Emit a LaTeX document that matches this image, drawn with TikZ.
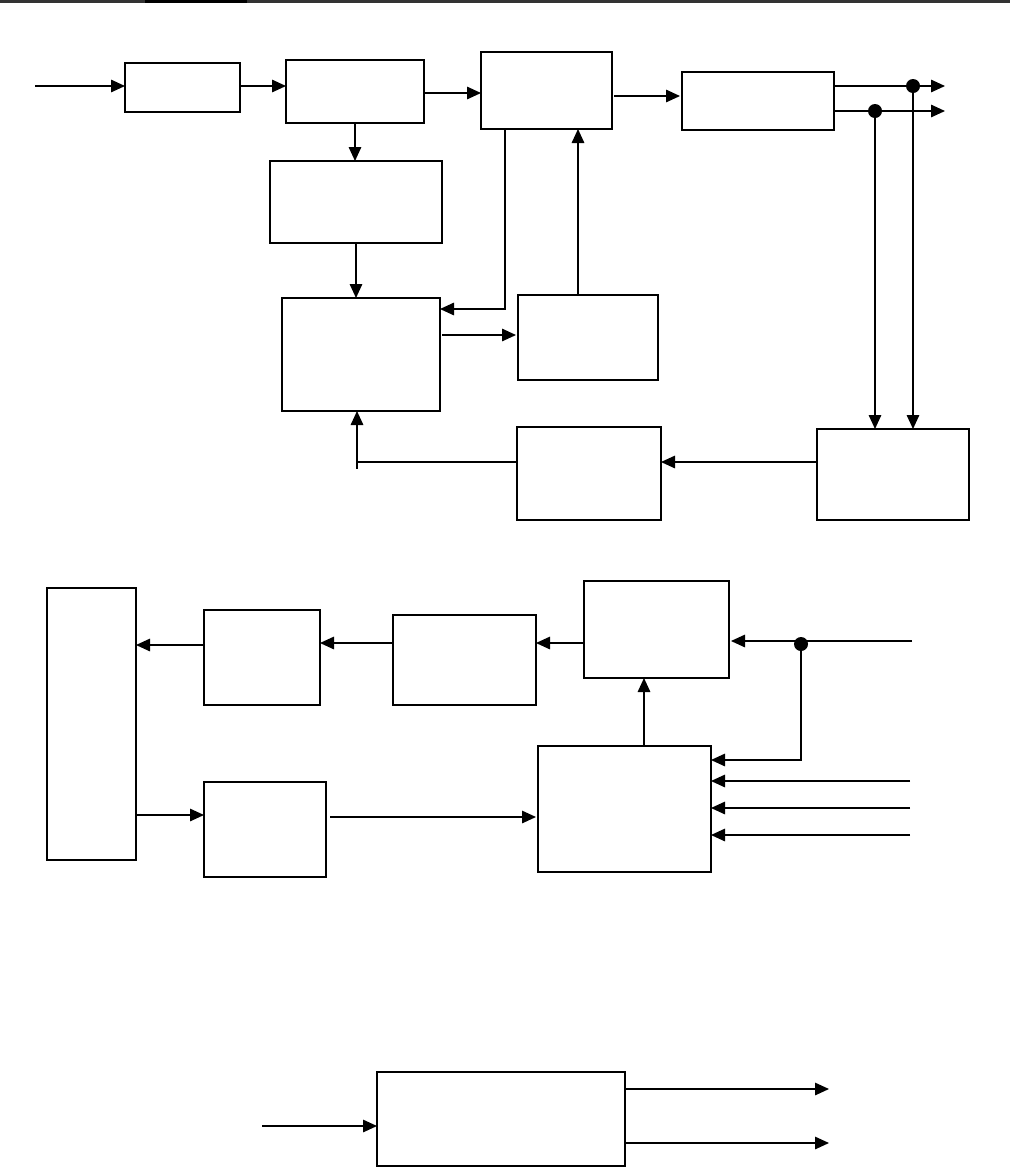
\documentclass[tikz,border=0pt]{standalone}
\usetikzlibrary{arrows.meta}
\begin{document}
\begin{tikzpicture}[x=1pt,y=-1pt,
  box/.style={draw,line width=2.2pt,inner sep=0pt,outer sep=0pt},
  wire/.style={line width=1.5pt},
  conn/.style={wire,-{Triangle[length=14pt,width=12.5pt]}},
  dotj/.style={fill=black,circle,inner sep=0pt,minimum size=14pt}]
\useasboundingbox (0,0) rectangle (1010,1168);
% header rule
\draw[line width=2.2pt,black!80] (0,1.5) -- (1010,1.5);
\draw[line width=2.2pt,black] (145,1.5) -- (247,1.5);
% top section boxes
\node[box,minimum width=115pt,minimum height=49pt] (B1) at (182.5,87.5) {};
\node[box,minimum width=138pt,minimum height=63pt] (B2) at (355,91.5) {};
\node[box,minimum width=131pt,minimum height=77pt] (B3) at (546.5,90.5) {};
\node[box,minimum width=152pt,minimum height=58pt] (B4) at (758,101) {};
\node[box,minimum width=172pt,minimum height=82pt] (B5) at (356,202) {};
\node[box,minimum width=158pt,minimum height=113pt] (B6) at (361,354.5) {};
\node[box,minimum width=140pt,minimum height=85pt] (B7) at (588,337.5) {};
\node[box,minimum width=144pt,minimum height=93pt] (B8) at (589,473.5) {};
\node[box,minimum width=152pt,minimum height=91pt] (B9) at (893,474.5) {};
\coordinate (in1) at (35,86);
\coordinate (out1) at (945,86);
\coordinate (out2) at (945,111);
\node[dotj] (j1) at (913,86) {};
\node[dotj] (j2) at (875,111) {};
\draw[conn] (in1) -- (B1.west |- in1);
\draw[conn] (B1.east |- 0,86) -- (B2.west |- 0,86);
\draw[conn] (B2.east |- 0,93) -- (B3.west |- 0,93);
\draw[conn,shorten <=2pt,shorten >=2pt] (B3.east |- 0,96) -- (B4.west |- 0,96);
\draw[conn] (B4.east |- 0,86) -- (out1);
\draw[conn] (B4.east |- 0,111) -- (out2);
\draw[conn] (j1.center) -- (j1 |- B9.north);
\draw[conn] (j2.center) -- (j2 |- B9.north);
\draw[conn] (B2.south) -- (B2.south |- B5.north);
\draw[conn] (B5.south) -- (B5.south |- B6.north);
\draw[conn] (B3.south -| 505,0) |- (B6.east |- 0,309);
\draw[conn,shorten <=2pt,shorten >=2pt] (B6.east |- 0,335) -- (B7.west |- 0,335);
\draw[conn] (B7.north -| 578,0) -- (B3.south -| 578,0);
\draw[conn] (B9.west |- 0,462) -- (B8.east |- 0,462);
\draw[conn] (B8.west |- 0,462) -| (B6.south -| 357,0);
\draw[wire] (357,461) -- (357,469);
% middle section boxes
\node[box,minimum width=89pt,minimum height=272pt] (C1) at (91.5,724) {};
\node[box,minimum width=116pt,minimum height=95pt] (C2) at (262,657.5) {};
\node[box,minimum width=143pt,minimum height=90pt] (C3) at (464.5,660) {};
\node[box,minimum width=145pt,minimum height=97pt] (C4) at (656.5,629.5) {};
\node[box,minimum width=122pt,minimum height=95pt] (C5) at (265,829.5) {};
\node[box,minimum width=173pt,minimum height=126pt] (C6) at (624.5,809) {};
\coordinate (in2) at (912,641);
\coordinate (in3) at (910,781);
\coordinate (in4) at (910,808);
\coordinate (in5) at (910,835);
\node[dotj] (j3) at (801,644) {};
\draw[conn] (C2.west |- 0,645) -- (C1.east |- 0,645);
\draw[conn] (C3.west |- 0,643) -- (C2.east |- 0,643);
\draw[conn] (C4.west |- 0,643) -- (C3.east |- 0,643);
\draw[conn,shorten >=2pt] (in2) -- (C4.east |- in2);
\draw[conn] (j3.center) |- (C6.east |- 0,760);
\draw[conn] (in3) -- (C6.east |- in3);
\draw[conn] (in4) -- (C6.east |- in4);
\draw[conn] (in5) -- (C6.east |- in5);
\draw[conn] (C6.north -| 644,0) -- (C4.south -| 644,0);
\draw[conn] (C1.east |- 0,815) -- (C5.west |- 0,815);
\draw[conn,shorten <=4pt,shorten >=2pt] (C5.east |- 0,817) -- (C6.west |- 0,817);
% bottom section
\node[box,minimum width=248pt,minimum height=94pt] (D1) at (501,1119) {};
\coordinate (in6) at (262,1126);
\coordinate (out3) at (829,1089);
\coordinate (out4) at (829,1143);
\draw[conn] (in6) -- (D1.west |- in6);
\draw[conn] (D1.east |- 0,1089) -- (out3);
\draw[conn] (D1.east |- 0,1143) -- (out4);
\end{tikzpicture}
\end{document}
